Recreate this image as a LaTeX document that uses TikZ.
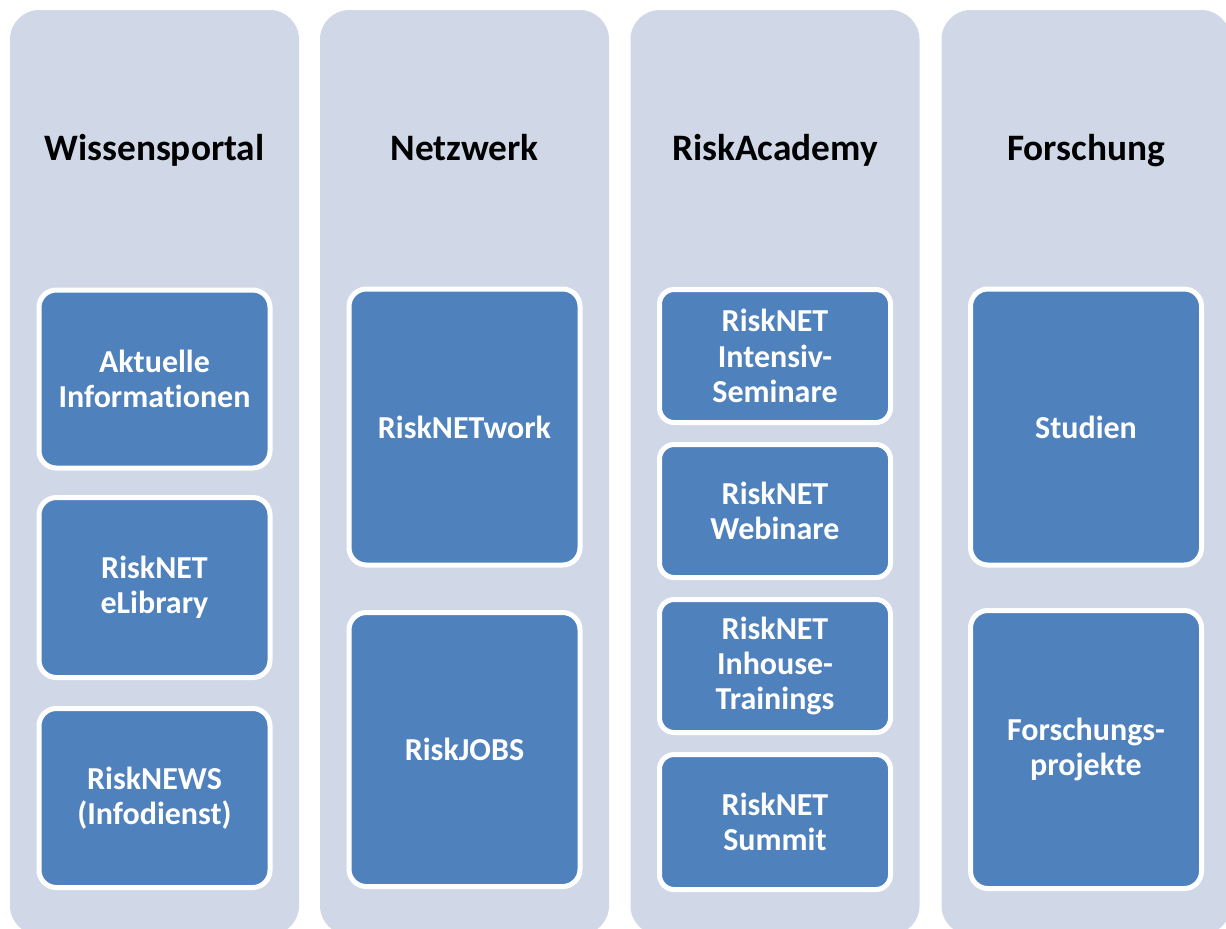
\documentclass[tikz,border=0pt]{standalone}
\usepackage{fontspec}
\setmainfont{Carlito}[Ligatures=NoCommon]
\definecolor{colbg}{RGB}{208,216,232}
\definecolor{boxbg}{RGB}{79,129,189}
\tikzset{
  colbox/.style={rectangle, rounded corners=22pt, fill=colbg, draw=none,
    minimum width=216.75pt, minimum height=693.75pt, inner sep=0pt},
  title/.style={font=\fontsize{28}{33}\selectfont\bfseries, text=black, anchor=base},
  itembox/.style={rectangle, rounded corners=13pt, fill=boxbg, draw=white, line width=3.75pt,
    minimum width=173.25pt, text=white, align=center, inner sep=0pt,
    font=\fontsize{24}{26.6}\selectfont\bfseries},
}
\begin{document}
\begin{tikzpicture}[x=0.75pt,y=-0.75pt]
\useasboundingbox (0,0) rectangle (1226,928);
\clip (0,0) rectangle (1226,928);
% columns
\node[colbox] (c1) at (154.5,472.5) {};
\node[colbox] (c2) at (464.5,472.5) {};
\node[colbox] (c3) at (775,472.5) {};
\node[colbox] (c4) at (1086,472.5) {};
% titles
\node[title] (t1) at (154.5,160) {Wissensportal};
\node[title] (t2) at (464.5,160) {Netzwerk};
\node[title] (t3) at (775,160) {RiskAcademy};
\node[title] (t4) at (1086,160) {Forschung};
% column 1
\node[itembox, minimum height=133.5pt] (a1) at (154.5,379) {Aktuelle\\Informationen};
\node[itembox, minimum height=135pt] (a2) at (154.5,587.5) {RiskNET\\eLibrary};
\node[itembox, minimum height=134.25pt] (a3) at (154.5,798) {RiskNEWS\\(Infodienst)};
% column 2
\node[itembox, minimum height=207pt] (b1) at (464.5,427) {RiskNETwork};
\node[itembox, minimum height=205.5pt] (b2) at (464.5,749.5) {RiskJOBS};
% column 3
\node[itembox, rounded corners=11pt, minimum height=99.75pt] (r1) at (775,356) {RiskNET\\Intensiv-\\Seminare};
\node[itembox, rounded corners=11pt, minimum height=99.75pt] (r2) at (775,511) {RiskNET\\Webinare};
\node[itembox, rounded corners=11pt, minimum height=99.75pt] (r3) at (775,666) {RiskNET\\Inhouse-\\Trainings};
\node[itembox, rounded corners=11pt, minimum height=101.25pt] (r4) at (775,822) {RiskNET\\Summit};
% column 4
\node[itembox, minimum height=207pt] (f1) at (1086,427) {Studien};
\node[itembox, minimum height=208.5pt] (f2) at (1086,749.5) {Forschungs-\\projekte};
\end{tikzpicture}
\end{document}
